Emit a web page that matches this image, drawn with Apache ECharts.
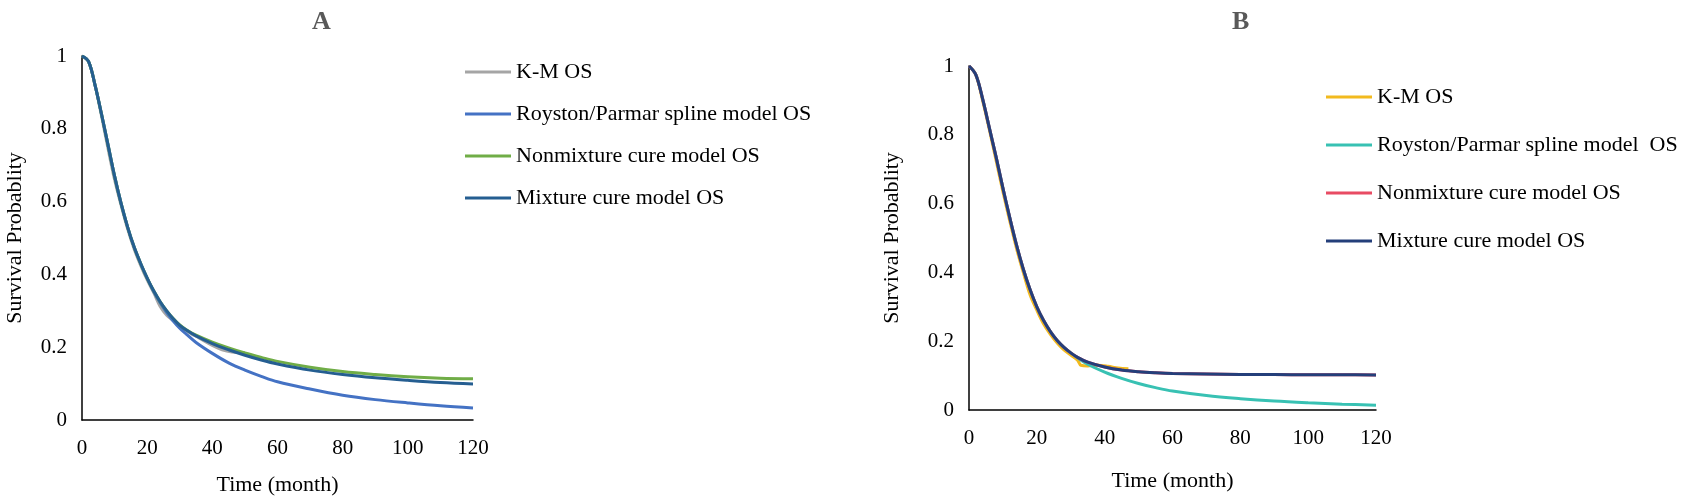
<!DOCTYPE html>
<html>
<head>
<meta charset="utf-8">
<title>Survival curves A / B</title>
<script src="https://cdn.jsdelivr.net/npm/echarts@6/dist/echarts.min.js"></script>
<style>
  html, body { margin: 0; padding: 0; background: #fff; }
  #main { width: 1687px; height: 501px; }
</style>
</head>
<body>
<div id="main"></div>
<script>
// time grid (months) used by the model curves
var modelTime = [0, 2, 4, 6, 8, 10, 12, 14, 16, 18, 20, 22, 24, 26, 28, 30, 32, 35, 40, 45, 50, 55, 60, 70, 80, 90, 100, 110, 120];

// panel A
var kmTimeA = [0, 2, 4, 6, 8, 10, 12, 14, 16, 18, 20, 22, 24, 26, 28, 30, 33, 36, 40, 43, 46, 50];
var kmA = [1.0, 0.985, 0.92, 0.835, 0.745, 0.66, 0.59, 0.525, 0.47, 0.425, 0.385, 0.35, 0.312, 0.288, 0.273, 0.259, 0.24, 0.225, 0.205, 0.193, 0.187, 0.185];
var roystonA = [1.0, 0.985, 0.92, 0.84, 0.755, 0.67, 0.595, 0.53, 0.475, 0.43, 0.39, 0.353, 0.322, 0.295, 0.272, 0.252, 0.236, 0.213, 0.183, 0.157, 0.137, 0.12, 0.105, 0.085, 0.068, 0.056, 0.047, 0.039, 0.033];
var nonmixA = [1.0, 0.985, 0.92, 0.84, 0.755, 0.67, 0.595, 0.53, 0.475, 0.43, 0.39, 0.355, 0.325, 0.30, 0.279, 0.261, 0.248, 0.233, 0.214, 0.198, 0.184, 0.172, 0.161, 0.145, 0.133, 0.125, 0.119, 0.115, 0.113];
var mixA = [1.0, 0.985, 0.92, 0.84, 0.755, 0.67, 0.595, 0.53, 0.475, 0.43, 0.39, 0.355, 0.325, 0.30, 0.278, 0.26, 0.247, 0.231, 0.21, 0.193, 0.178, 0.165, 0.154, 0.137, 0.125, 0.116, 0.109, 0.103, 0.099];

// panel B
var kmTimeB = [0, 2, 4, 6, 8, 10, 12, 14, 16, 18, 20, 22, 24, 26, 28, 30, 32, 33, 35, 38, 41, 44, 47];
var kmB = [1.0, 0.975, 0.9, 0.815, 0.725, 0.635, 0.55, 0.47, 0.4, 0.335, 0.29, 0.25, 0.22, 0.195, 0.175, 0.16, 0.145, 0.13, 0.128, 0.13, 0.127, 0.122, 0.12];
var roystonB = [1.0, 0.975, 0.905, 0.82, 0.735, 0.645, 0.56, 0.48, 0.41, 0.35, 0.30, 0.26, 0.228, 0.202, 0.182, 0.166, 0.152, 0.133, 0.11, 0.092, 0.077, 0.065, 0.055, 0.042, 0.033, 0.026, 0.021, 0.017, 0.014];
var nonmixB = [1.0, 0.975, 0.905, 0.82, 0.735, 0.645, 0.56, 0.48, 0.41, 0.35, 0.30, 0.26, 0.228, 0.202, 0.182, 0.166, 0.153, 0.139, 0.125, 0.116, 0.111, 0.108, 0.106, 0.1045, 0.1035, 0.103, 0.1025, 0.1022, 0.102];
var mixB = [1.0, 0.975, 0.905, 0.82, 0.735, 0.645, 0.56, 0.48, 0.41, 0.35, 0.30, 0.26, 0.228, 0.202, 0.182, 0.166, 0.153, 0.139, 0.125, 0.116, 0.111, 0.108, 0.106, 0.1045, 0.1035, 0.103, 0.1025, 0.1022, 0.102];

var namesA = ['K-M OS', 'Royston/Parmar spline model OS', 'Nonmixture cure model OS', 'Mixture cure model OS'];
var namesB = ['K-M OS', 'Royston/Parmar spline model  OS', 'Nonmixture cure model OS', 'Mixture cure model OS'];

var serif = '"Liberation Serif", "Times New Roman", serif';

// series names must be unique across both legends, so panel B gets a prefix
// that the legend formatter strips again
var PB = 'B|';

function pairs(t, v) {
    var out = [];
    for (var i = 0; i < v.length; i++) out.push([t[i], v[i]]);
    return out;
}

function xAxisCfg(idx, gap) {
    return {
        type: 'value', gridIndex: idx, min: 0, max: 120, interval: 20,
        name: 'Time (month)', nameLocation: 'middle', nameGap: gap,
        nameTextStyle: { fontFamily: serif, fontSize: 22, color: '#000' },
        axisLine: { show: true, onZero: false, lineStyle: { color: '#000', width: 1.5 } },
        axisTick: { show: false },
        axisLabel: { fontFamily: serif, fontSize: 21, color: '#000', margin: 18 },
        splitLine: { show: false }
    };
}
function yAxisCfg(idx, gap) {
    return {
        type: 'value', gridIndex: idx, min: 0, max: 1, interval: 0.2,
        name: 'Survival Probablity', nameLocation: 'middle', nameGap: gap,
        nameTextStyle: { fontFamily: serif, fontSize: 22, color: '#000' },
        axisLine: { show: true, lineStyle: { color: '#000', width: 1.5 } },
        axisTick: { show: false },
        axisLabel: { fontFamily: serif, fontSize: 21, color: '#000', margin: 15 },
        splitLine: { show: false }
    };
}
function line(name, data, color, idx) {
    return {
        name: name, type: 'line', xAxisIndex: idx, yAxisIndex: idx,
        data: data, smooth: 0.35, symbol: 'none',
        lineStyle: { color: color, width: 3 }, itemStyle: { color: color }
    };
}
function legendCfg(names, left, top, gap) {
    return {
        data: names, orient: 'vertical', left: left, top: top,
        icon: 'rect', itemWidth: 46, itemHeight: 3, itemGap: gap,
        formatter: function (n) { return n.indexOf(PB) === 0 ? n.slice(PB.length) : n; },
        textStyle: { fontFamily: serif, fontSize: 22, color: '#000', lineHeight: 22 }
    };
}

var seriesB = namesB.map(function (n) { return PB + n; });

var chart = echarts.init(document.getElementById('main'));
chart.setOption({
    animation: false,
    backgroundColor: '#fff',
    title: [
        { text: 'A', left: 307, top: 4, textStyle: { fontFamily: serif, fontSize: 26, fontWeight: 'bold', color: '#595959' } },
        { text: 'B', left: 1227, top: 4, textStyle: { fontFamily: serif, fontSize: 26, fontWeight: 'bold', color: '#595959' } }
    ],
    legend: [
        legendCfg(namesA, 460, 56, 20),
        legendCfg(seriesB, 1321, 81, 26)
    ],
    grid: [
        { left: 82, top: 56, width: 391, height: 364 },
        { left: 969, top: 66, width: 407, height: 344 }
    ],
    xAxis: [xAxisCfg(0, 54), xAxisCfg(1, 60)],
    yAxis: [yAxisCfg(0, 56), yAxisCfg(1, 66)],
    series: [
        line(namesA[0], pairs(kmTimeA, kmA), '#A5A5A5', 0),
        line(namesA[1], pairs(modelTime, roystonA), '#4472C4', 0),
        line(namesA[2], pairs(modelTime, nonmixA), '#70AD47', 0),
        line(namesA[3], pairs(modelTime, mixA), '#255E91', 0),
        line(seriesB[0], pairs(kmTimeB, kmB), '#F2BA1E', 1),
        line(seriesB[1], pairs(modelTime, roystonB), '#38C1B3', 1),
        line(seriesB[2], pairs(modelTime, nonmixB), '#E84B63', 1),
        line(seriesB[3], pairs(modelTime, mixB), '#243F7A', 1)
    ]
});
</script>
</body>
</html>
